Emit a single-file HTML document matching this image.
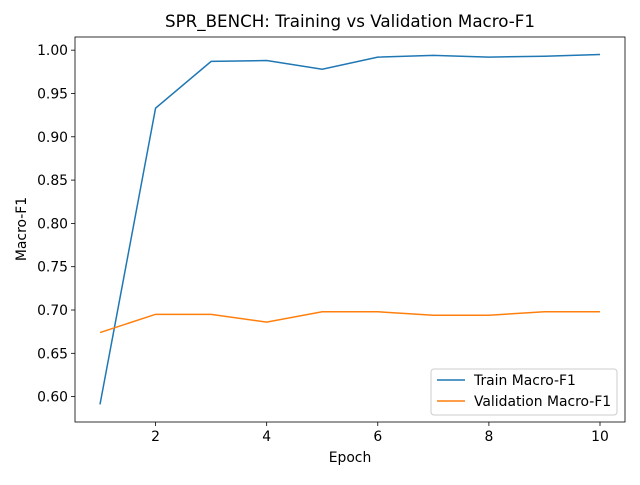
<!DOCTYPE html>
<html><head><meta charset="utf-8"><style>
body{margin:0;background:#fff;font-family:"Liberation Sans","DejaVu Sans",sans-serif;}
svg text{font-family:"DejaVu Sans","Liberation Sans",sans-serif;}
</style></head><body>
<svg id="chart" width="640" height="480" xmlns="http://www.w3.org/2000/svg"></svg>
<script>
const epochs=[1,2,3,4,5,6,7,8,9,10];
const trainF1=[0.591,0.933,0.987,0.988,0.978,0.992,0.994,0.992,0.993,0.995];
const valF1=[0.674,0.695,0.695,0.686,0.698,0.698,0.694,0.694,0.698,0.698];
const xTicks=[2,4,6,8,10];
const yTicks=[0.60,0.65,0.70,0.75,0.80,0.85,0.90,0.95,1.00];
const L=75,R=625,T=37,B=422;
const xMin=0.55,xMax=10.45,yMin=0.5707,yMax=1.0152;
const xs=v=>L+(v-xMin)/(xMax-xMin)*(R-L);
const ys=v=>B-(v-yMin)/(yMax-yMin)*(B-T);
const svg=document.getElementById('chart');
const NS='http://www.w3.org/2000/svg';
function mk(tag,attrs,txt){const e=document.createElementNS(NS,tag);for(const k in attrs)e.setAttribute(k,attrs[k]);if(txt!==undefined)e.textContent=txt;svg.appendChild(e);return e;}
let e;
e=mk('text',{x:350,y:27,'text-anchor':'middle','font-size':16.7,fill:'#000'},'SPR_BENCH: Training vs Validation Macro-F1');


xTicks.forEach(t=>{
  e=mk('line',{x1:xs(t),x2:xs(t),y1:B,y2:B+4,stroke:'#000','stroke-width':0.8});
  
  
  e=mk('text',{x:xs(t),y:B+19,'text-anchor':'middle','font-size':13.9,fill:'#000'},String(t));
  
  
});
yTicks.forEach(t=>{
  e=mk('line',{x1:L-4,x2:L,y1:ys(t),y2:ys(t),stroke:'#000','stroke-width':0.8});
  
  
  e=mk('text',{x:L-7,y:ys(t)+5,'text-anchor':'end','font-size':13.9,fill:'#000'},t.toFixed(2));
  
  
});
e=mk('text',{x:350,y:462,'text-anchor':'middle','font-size':13.9,fill:'#000'},'Epoch');


e=mk('text',{x:26,y:229,'text-anchor':'middle','font-size':13.9,fill:'#000',transform:'rotate(-90 26 229)'},'Macro-F1');


function line(vals,color,name){
  const p=vals.map((v,i)=>xs(epochs[i])+','+ys(v)).join(' ');
  const el=mk('polyline',{points:p,fill:'none',stroke:color,'stroke-width':1.5});
  
  
}
line(trainF1,'#1f77b4','train-line');
line(valF1,'#ff7f0e','validation-line');
e=mk('rect',{x:L,y:T,width:R-L,height:B-T,fill:'none',stroke:'#000','stroke-width':0.8});


e=mk('rect',{x:431,y:369,width:186,height:46,rx:3,fill:'#fff',stroke:'#ccc','stroke-width':1,'fill-opacity':0.8});


[['Train Macro-F1','#1f77b4',380],['Validation Macro-F1','#ff7f0e',401]].forEach(([t,c,y])=>{
  e=mk('line',{x1:437,x2:465,y1:y,y2:y,stroke:c,'stroke-width':1.5});
  
  
  e=mk('text',{x:474,y:y+5,'font-size':13.9,fill:'#000'},t);
  
  
});
</script>
</body></html>
